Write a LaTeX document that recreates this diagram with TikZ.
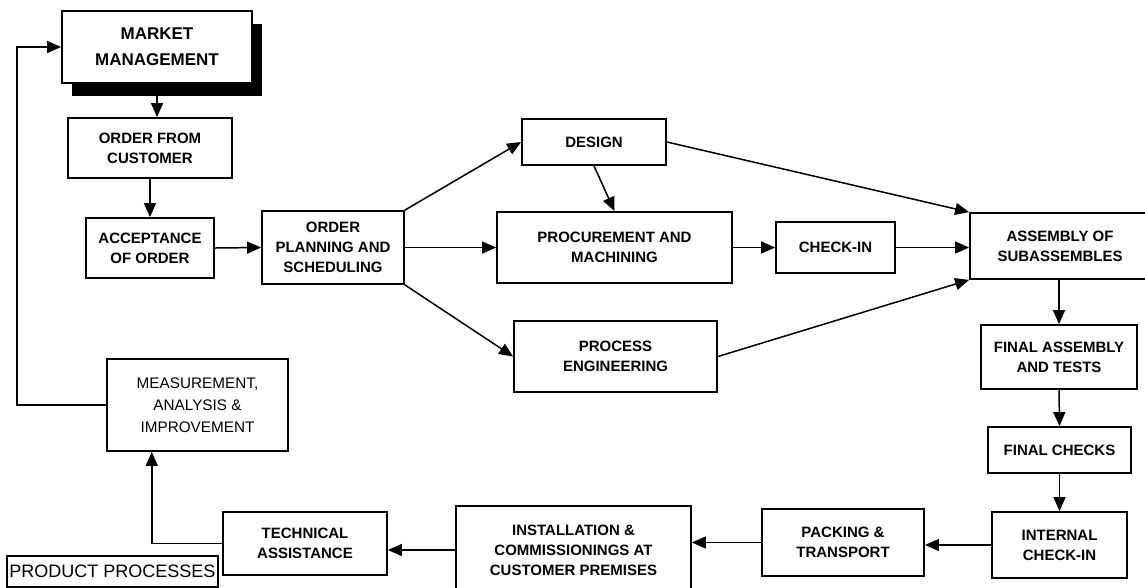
\documentclass[tikz,border=0pt]{standalone}
\usepackage{fontspec}
\setmainfont{Liberation Sans}
\usepackage{tikz}
\usetikzlibrary{arrows.meta,shapes,positioning,calc,shadows}

\tikzset{
    box/.style={draw, line width=1.8pt, inner sep=0pt, align=center, fill=white,
        font=\bfseries\fontsize{15}{20}\selectfont},
    plainbox/.style={box, font=\fontsize{15.3}{22}\selectfont},
    arr/.style={-{Triangle[length=14pt,width=12pt]}, line width=1.5pt},
    line/.style={line width=1.5pt}
}

\begin{document}
\begin{tikzpicture}[x=1pt,y=-1pt]
    \useasboundingbox (0,0) rectangle (1145,587);

    % left column
    \node[box, minimum width=190pt, minimum height=72pt,
          font=\bfseries\fontsize{17}{26}\selectfont,
          drop shadow={shadow xshift=10pt, shadow yshift=-13pt, fill=black, opacity=1}]
          (mm) at (157,47) {MARKET\\MANAGEMENT};
    \node[box, minimum width=164pt, minimum height=60pt] (order) at (150,148) {ORDER FROM\\CUSTOMER};
    \node[box, minimum width=128pt, minimum height=60pt] (accept) at (150,248) {ACCEPTANCE\\OF ORDER};
    \node[plainbox, minimum width=181pt, minimum height=92pt] (meas) at (197.5,405) {MEASUREMENT,\\ANALYSIS \&\\IMPROVEMENT};

    % middle
    \node[box, minimum width=142pt, minimum height=73pt] (op) at (333,247.5) {ORDER\\PLANNING AND\\SCHEDULING};
    \node[box, minimum width=144pt, minimum height=46pt] (design) at (594,142) {DESIGN};
    \node[box, minimum width=235pt, minimum height=71pt] (proc) at (614.5,247.5) {PROCUREMENT AND\\MACHINING};
    \node[box, minimum width=119pt, minimum height=51pt] (checkin) at (835.5,247.5) {CHECK-IN};
    \node[box, minimum width=203pt, minimum height=71pt] (pe) at (615.5,356.5) {PROCESS\\ENGINEERING};

    % right column
    \node[box, minimum width=180pt, minimum height=66pt] (asm) at (1060,246) {ASSEMBLY OF\\SUBASSEMBLES};
    \node[box, minimum width=156pt, minimum height=64pt] (fa) at (1059,357) {FINAL ASSEMBLY\\AND TESTS};
    \node[box, minimum width=143pt, minimum height=46pt] (fc) at (1059.5,450) {FINAL CHECKS};
    \node[box, minimum width=135pt, minimum height=66pt] (ic) at (1059.5,545) {INTERNAL\\CHECK-IN};

    % bottom row
    \node[box, minimum width=162pt, minimum height=67pt] (pack) at (843,542.5) {PACKING \&\\TRANSPORT};
    \node[box, minimum width=235pt, minimum height=88pt] (inst) at (573.5,550) {INSTALLATION \&\\COMMISSIONINGS AT\\CUSTOMER PREMISES};
    \node[box, minimum width=164pt, minimum height=63pt] (ta) at (305,543.5) {TECHNICAL\\ASSISTANCE};
    \node[draw, line width=1.4pt, inner sep=0pt, minimum width=211pt, minimum height=31pt,
          font=\fontsize{18}{20}\selectfont] (pp) at (112.5,571.5) {PRODUCT PROCESSES};

    % arrows
    \draw[arr] (mm.south) -- (mm.south |- order.north);
    \draw[arr] (order.south) -- (accept.north);
    \draw[arr] (accept.east) -- (op.west);
    \draw[arr] (op.north east) -- (design.west);
    \draw[arr] (op.east) -- (proc.west);
    \draw[arr] (op.south east) -- (pe.west);
    \draw[arr] (design.south) -- (proc.north);
    \draw[arr] (proc.east) -- (checkin.west);
    \draw[arr] (design.east) -- (asm.north west);
    \draw[arr] (checkin.east) -- (checkin.east -| asm.west);
    \draw[arr] (pe.east) -- (asm.south west);
    \draw[arr] (asm.south -| fa.north) -- (fa.north);
    \draw[arr] (fa.south) -- (fc.north);
    \draw[arr] (fc.south) -- (ic.north);
    \draw[arr] (ic.west) -- (ic.west -| pack.east);
    \draw[arr] (pack.west) -- (pack.west -| inst.east);
    \draw[arr] (inst.west) -- (inst.west -| ta.east);

    % feedback
    \coordinate (up) at ($(meas.south west)!0.25!(meas.south east)$);
    \draw[arr] (ta.west) -| (up);
    \coordinate (fb) at (17,405);
    \draw[arr] (meas.west) -- (fb) |- (mm.west);
\end{tikzpicture}
\end{document}
